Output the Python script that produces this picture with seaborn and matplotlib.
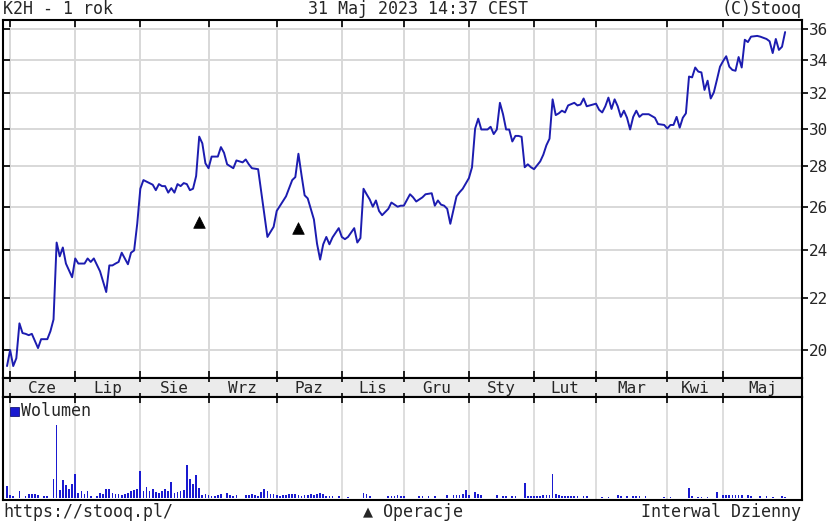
import numpy as np
import pandas as pd
import matplotlib
matplotlib.use("Agg")
import matplotlib.pyplot as plt
import matplotlib.patches as mpatches
from matplotlib.ticker import NullLocator
import seaborn as sns

sns.set_style("white")
plt.rcParams['font.family'] = ['DejaVu Sans Mono', 'Liberation Mono']

# ---------------- data (trading-day index from 31 May 2022) ----------------
day_idx = [0, 1, 2, 3, 4, 5, 6, 7, 8, 10, 11, 13, 14, 15, 16, 17, 18, 19, 21, 22, 23, 25, 26, 27, 28, 30,
           32, 33, 34, 35, 36, 37, 38, 39, 40, 41, 42, 43, 44, 46, 47, 48, 49, 50, 51, 52, 53, 54, 55, 56,
           57, 58, 59, 60, 61, 62, 63, 64, 65, 66, 68, 69, 70, 71, 73, 74, 76, 77, 78, 79, 81, 84, 86, 87,
           90, 92, 93, 94, 95, 96, 97, 99, 100, 101, 102, 103, 104, 105, 107, 108, 109, 110, 112, 113, 114,
           115, 116, 117, 118, 119, 120, 121, 123, 124, 126, 127, 128, 130, 131, 132, 134, 135, 137, 138,
           139, 140, 141, 142, 143, 145, 146, 147, 149, 150, 151, 152, 153, 155, 156, 157, 158, 159, 160,
           161, 162, 163, 164, 165, 166, 167, 168, 169, 170, 172, 173, 174, 175, 176, 177, 178, 179, 180,
           181, 183, 184, 185, 186, 187, 189, 190, 191, 192, 193, 194, 195, 196, 197, 198, 199, 200, 201,
           202, 203, 204, 205, 207, 209, 210, 212, 213, 214, 215, 216, 217, 218, 219, 220, 221, 222, 223,
           224, 225, 226, 227, 228, 229, 230, 231, 232, 233, 234, 235, 236, 237, 238, 239, 240, 242, 243,
           245, 246, 247, 248, 249, 250, 251]
close = [19.42, 20.0, 19.42, 19.7, 21.0, 20.63, 20.6, 20.55, 20.6, 20.07, 20.4, 20.4, 20.7, 21.15, 24.35,
         23.74, 24.13, 23.43, 22.85, 23.65, 23.43, 23.43, 23.65, 23.5, 23.65, 23.1, 22.24, 23.35, 23.35,
         23.43, 23.5, 23.9, 23.65, 23.4, 23.9, 24.0, 25.2, 26.87, 27.3, 27.15, 27.07, 26.8, 27.1, 27.0,
         27.0, 26.68, 26.9, 26.68, 27.1, 27.0, 27.15, 27.1, 26.8, 26.87, 27.5, 29.56, 29.2, 28.15, 27.9,
         28.5, 28.5, 29.0, 28.7, 28.1, 27.9, 28.3, 28.2, 28.35, 28.1, 27.9, 27.85, 24.6, 25.06, 25.8,
         26.5, 27.3, 27.45, 28.65, 27.55, 26.55, 26.4, 25.4, 24.3, 23.6, 24.27, 24.6, 24.27, 24.58, 25.0,
         24.6, 24.5, 24.6, 25.0, 24.35, 24.55, 26.87, 26.6, 26.35, 26.0, 26.3, 25.8, 25.6, 25.9, 26.2,
         26.0, 26.05, 26.05, 26.6, 26.45, 26.25, 26.45, 26.6, 26.65, 26.05, 26.3, 26.1, 26.05, 25.9,
         25.2, 26.5, 26.7, 26.87, 27.4, 27.95, 30.0, 30.55, 29.95, 29.95, 30.1, 29.7, 29.95, 31.45, 30.8,
         29.95, 29.95, 29.3, 29.6, 29.6, 29.55, 27.95, 28.1, 27.95, 27.85, 28.25, 28.6, 29.1, 29.45,
         31.65, 30.75, 30.85, 31.0, 30.9, 31.3, 31.45, 31.3, 31.35, 31.7, 31.25, 31.35, 31.4, 31.05, 30.9,
         31.25, 31.75, 31.1, 31.65, 31.25, 30.65, 31.0, 30.6, 29.95, 30.65, 31.0, 30.65, 30.8, 30.8, 30.6,
         30.25, 30.2, 30.0, 30.2, 30.2, 30.65, 30.05, 30.6, 30.85, 33.0, 32.95, 33.55, 33.3, 33.25, 32.2,
         32.75, 31.7, 32.05, 32.8, 33.6, 33.95, 34.25, 33.6, 33.4, 33.35, 34.2, 33.55, 35.3, 35.15, 35.5,
         35.55, 35.5, 35.35, 35.2, 34.45, 35.35, 34.65, 34.85, 35.8]

ops_idx = [62, 94]
ops_val = [25.3, 25.0]

vol_idx = [0, 1, 2, 4, 6, 7, 8, 9, 10, 12, 13, 15, 16, 17, 18, 19, 20, 21, 22, 23, 24, 25, 26, 27, 29, 30,
           31, 32, 33, 34, 35, 36, 37, 38, 39, 40, 41, 42, 43, 44, 45, 46, 47, 48, 49, 50, 51, 52, 53, 54,
           55, 56, 57, 58, 59, 60, 61, 62, 63, 64, 65, 66, 67, 68, 69, 71, 72, 73, 74, 77, 78, 79, 80, 81,
           82, 83, 84, 85, 86, 87, 88, 89, 90, 91, 92, 93, 94, 95, 96, 97, 98, 99, 100, 101, 102, 103, 104,
           105, 107, 110, 115, 116, 117, 123, 124, 125, 126, 127, 128, 133, 134, 136, 138, 142, 144, 145,
           146, 147, 148, 149, 151, 152, 153, 158, 160, 161, 163, 164, 167, 168, 169, 170, 171, 172, 173,
           174, 175, 176, 177, 178, 179, 180, 181, 182, 183, 184, 186, 187, 192, 194, 197, 198, 200, 202,
           203, 204, 206, 212, 214, 220, 221, 223, 224, 226, 229, 231, 232, 233, 234, 235, 236, 237, 239,
           240, 243, 245, 247, 250, 251]
vol_val = [12, 3, 2, 7, 2, 4, 4, 4, 3, 2, 2, 19, 73, 8, 18, 13, 9, 14, 24, 5, 7, 4, 7, 2, 2, 5,
           4, 9, 9, 5, 4, 4, 3, 4, 5, 7, 8, 9, 27, 7, 11, 7, 9, 6, 5, 7, 9, 7, 16, 5,
           6, 7, 8, 33, 19, 14, 23, 10, 3, 4, 3, 2, 2, 3, 4, 5, 3, 2, 3, 3, 3, 4, 3, 2,
           6, 9, 7, 4, 4, 3, 2, 3, 3, 4, 4, 4, 3, 2, 3, 3, 4, 3, 4, 5, 4, 2, 2,
           2, 2, 1, 5, 4, 2, 2, 2, 2, 3, 2, 2, 2, 2, 2, 2, 3, 3, 3,
           3, 4, 8, 3, 6, 4, 3, 3, 2, 2, 2, 2, 15, 2, 2, 2, 2, 2, 3,
           3, 3, 24, 4, 3, 2, 2, 2, 2, 2, 2, 2, 2, 1, 1, 3, 2, 2, 2,
           2, 2, 2, 1, 1, 10, 2, 1, 1, 1, 6, 3, 3, 3, 3, 3, 3, 3, 3,
           2, 2, 2, 1, 2, 1]

month_labels = ["Cze", "Lip", "Sie", "Wrz", "Paz", "Lis", "Gru", "Sty", "Lut", "Mar", "Kwi", "Maj"]
month_start = [1, 22, 43, 65, 87, 108, 128, 149, 170, 190, 213, 231]
y_ticks = [20, 22, 24, 26, 28, 30, 32, 34, 36]

# ---------------- layout ----------------
W, H = 829, 525
fig = plt.figure(figsize=(W / 100, H / 100), dpi=100)
fig.patch.set_facecolor("white")

def rect(l, t, r, b):
    return [l / W, 1 - b / H, (r - l) / W, (b - t) / H]

XLIM = (-1.3, 256.45)
YLIM = (19.0, 36.6)
GRID = "#d8d8d8"
LINE = "#1c1cb0"
FS = 12

ax = fig.add_axes(rect(3, 20, 802, 378))
band = fig.add_axes(rect(3, 378, 802, 397))
axv = fig.add_axes(rect(3, 397, 802, 500))

# main price chart
df = pd.DataFrame({"day": day_idx, "close": close})
sns.lineplot(data=df, x="day", y="close", ax=ax, color=LINE, linewidth=1.4)
ops = pd.DataFrame({"day": ops_idx, "val": ops_val})
sns.scatterplot(data=ops, x="day", y="val", ax=ax, marker="^", color="black", s=70,
                edgecolor="black", linewidth=0.5, zorder=5)
ax.set_yscale("log")
ax.set_ylim(*YLIM)
ax.set_xlim(*XLIM)
ax.set_xticks(month_start)
ax.set_yticks(y_ticks)
ax.yaxis.set_minor_locator(NullLocator())
ax.xaxis.set_minor_locator(NullLocator())
ax.grid(True, color=GRID, linewidth=1.4)
ax.set_axisbelow(True)
ax.tick_params(axis="x", direction="in", top=True, bottom=True, labelbottom=False,
               length=5, width=1.2, color="black")
ax.tick_params(axis="y", direction="in", left=True, right=False, labelleft=False,
               length=5, width=1.2, color="black")
ax.set_xlabel("")
ax.set_ylabel("")
for s in ax.spines.values():
    s.set_color("black")
    s.set_linewidth(1.5)

tw = ax.twinx()
tw.set_yscale("log")
tw.set_ylim(*YLIM)
tw.set_yticks(y_ticks)
tw.set_yticklabels([str(v) for v in y_ticks])
tw.yaxis.set_minor_locator(NullLocator())
tw.tick_params(axis="y", direction="out", length=4, width=1.2, labelsize=11.5, pad=1, color="black")
for s in tw.spines.values():
    s.set_visible(False)

# month band
band.set_facecolor("#ebebeb")
band.set_xlim(*XLIM)
band.set_ylim(0, 1)
band.set_xticks(month_start)
band.set_yticks([])
band.tick_params(axis="x", direction="in", top=True, bottom=True, labelbottom=False,
                 length=3, width=1.2, color="black")
for s in band.spines.values():
    s.set_color("black")
    s.set_linewidth(1.5)
edges = month_start + [XLIM[1]]
for i, lab in enumerate(month_labels):
    band.text((edges[i] + edges[i + 1]) / 2, 0.45, lab, ha="center", va="center", fontsize=11.5)

# volume panel
axv.bar(vol_idx, vol_val, width=0.55, color="#1a1ad0", linewidth=0)
axv.set_xlim(*XLIM)
axv.set_ylim(-2, 101)
axv.set_xticks(month_start)
axv.set_yticks([])
axv.grid(True, axis="x", color=GRID, linewidth=1.2)
axv.set_axisbelow(True)
axv.tick_params(axis="x", direction="in", top=True, bottom=False, labelbottom=False,
                length=4, width=1.2, color="black")
for s in axv.spines.values():
    s.set_color("black")
    s.set_linewidth(1.5)
axv.add_patch(mpatches.Rectangle((10 / W, 1 - 416 / H), 9 / W, 9 / H, transform=fig.transFigure,
                                 facecolor="#1a1ad0", edgecolor="#000060", linewidth=0.5, zorder=10))
fig.text(21 / W, 1 - 411 / H, "Wolumen", ha="left", va="center", fontsize=FS)

# header / footer texts
fig.text(3 / W, 1 - 9 / H, "K2H - 1 rok", ha="left", va="center", fontsize=FS)
fig.text(418 / W, 1 - 9 / H, "31 Maj 2023 14:37 CEST", ha="center", va="center", fontsize=FS)
fig.text(802 / W, 1 - 9 / H, "(C)Stooq", ha="right", va="center", fontsize=FS)
fig.text(3 / W, 1 - 512 / H, "https://stooq.pl/", ha="left", va="center", fontsize=FS)
fig.text(413 / W, 1 - 512 / H, "▲ Operacje", ha="center", va="center", fontsize=FS)
fig.text(801 / W, 1 - 512 / H, "Interwal Dzienny", ha="right", va="center", fontsize=FS)

fig.savefig("out.png", dpi=100, facecolor="white")
